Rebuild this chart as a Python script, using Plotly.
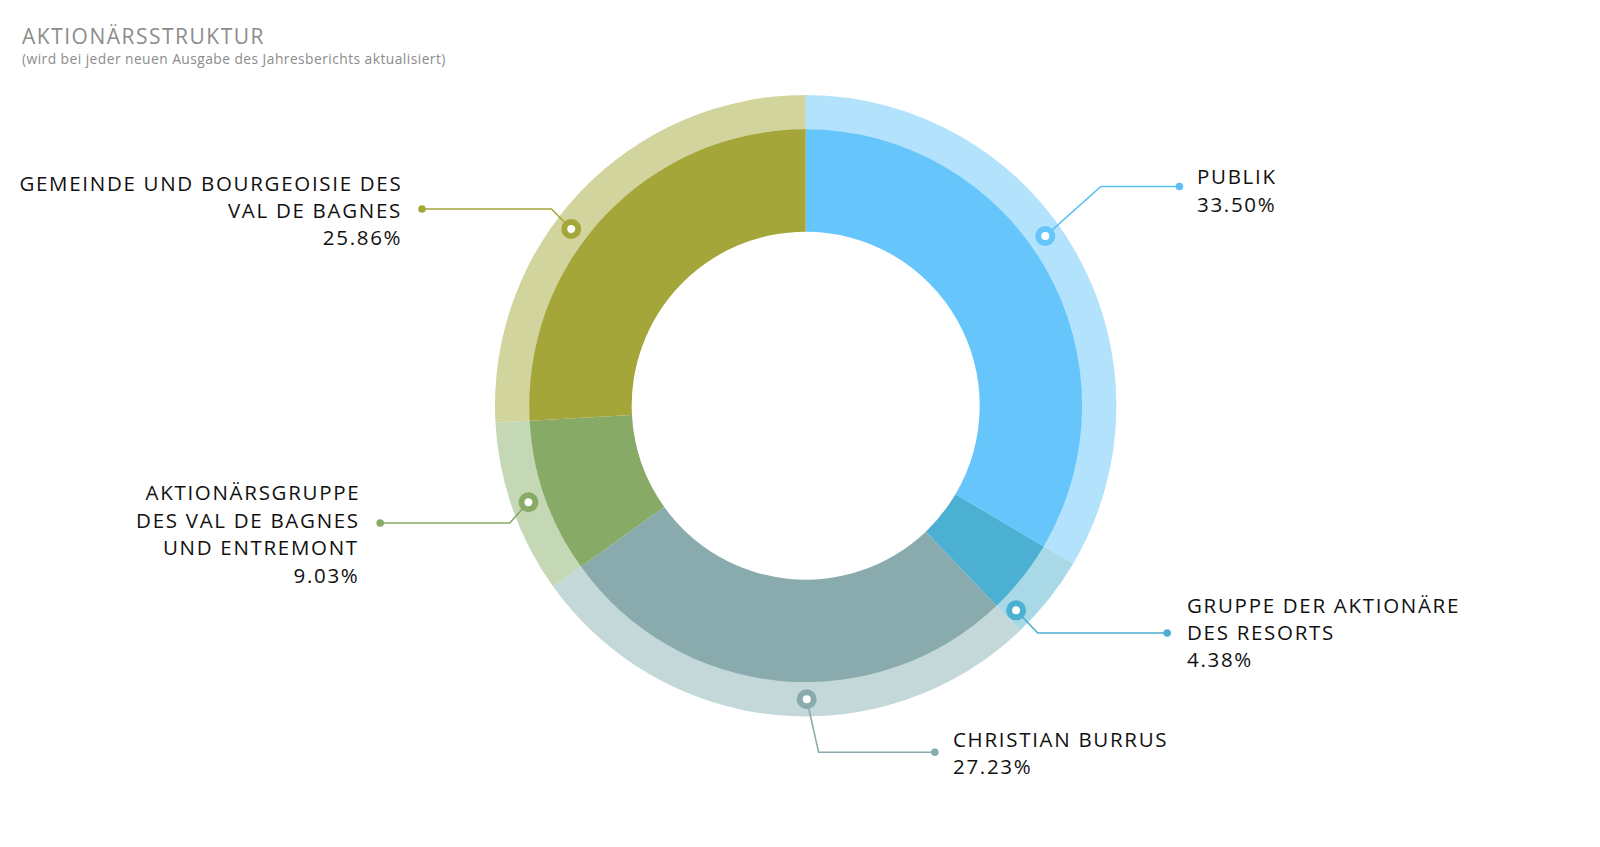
import math
import plotly.graph_objects as go

# ---------------- data ----------------
categories = [
    "PUBLIK",
    "GRUPPE DER AKTIONÄRE DES RESORTS",
    "CHRISTIAN BURRUS",
    "AKTIONÄRSGRUPPE DES VAL DE BAGNES UND ENTREMONT",
    "GEMEINDE UND BOURGEOISIE DES VAL DE BAGNES",
]
shares = [33.50, 4.38, 27.23, 9.03, 25.86]
label_lines = [
    ["PUBLIK"],
    ["GRUPPE DER AKTIONÄRE", "DES RESORTS"],
    ["CHRISTIAN BURRUS"],
    ["AKTIONÄRSGRUPPE", "DES VAL DE BAGNES", "UND ENTREMONT"],
    ["GEMEINDE UND BOURGEOISIE DES", "VAL DE BAGNES"],
]
title_text = "AKTIONÄRSSTRUKTUR"
subtitle_text = "(wird bei jeder neuen Ausgabe des Jahresberichts aktualisiert)"

# ---------------- style ----------------
dark_colors = ["#66C6FC", "#4BB0D1", "#89ABAD", "#87AA66", "#A5A63A"]
light_colors = ["#B3E2FC", "#A9D9E6", "#C4D7D9", "#C4D8B6", "#D2D49E"]
line_colors = ["#5CBFF3", "#4BB0D1", "#89ABAD", "#87AA66", "#A5A63A"]

W, H = 1600, 847
CX, CY = 805.7, 405.7
R_OUTER, R_INNER, R_HOLE = 310.7, 276.4, 174.0
R_CALLOUT = (R_OUTER + R_INNER) / 2

# callout layout: angle on ring (deg clockwise from top), elbow, end dot, text anchor
callout_angle = [54.7, 134.2, 179.8, 250.8, 307.0]
elbow = [(1100.9, 186.5), (1037.7, 633.0), (818.6, 752.3), (509.7, 523.0), (551.5, 209.0)]
end_dot = [(1179.4, 186.5), (1167.2, 633.0), (934.8, 752.3), (380.2, 523.0), (422.0, 209.0)]
text_x = [(1195.0, "left"), (1185.0, "left"), (950.5, "left"), (361.5, "right"), (403.5, "right")]
text_first_line_y = [176.4, 604.5, 739.0, 492.4, 182.5]
LINE_STEP = 27.4
LABEL_SIZE = 20.5


def px(x):
    return x / W


def py(y):
    return 1 - y / H


def dom(r):
    return dict(x=[px(CX - r), px(CX + r)], y=[py(CY + r), py(CY - r)])


fig = go.Figure()
fig.add_trace(go.Pie(
    labels=categories, values=shares, sort=False, direction="clockwise", rotation=0,
    hole=(R_INNER - 3) / R_OUTER, domain=dom(R_OUTER),
    marker=dict(colors=light_colors, line=dict(width=0)),
    textinfo="none", hoverinfo="skip", showlegend=False,
))
fig.add_trace(go.Pie(
    labels=categories, values=shares, sort=False, direction="clockwise", rotation=0,
    hole=R_HOLE / R_INNER, domain=dom(R_INNER),
    marker=dict(colors=dark_colors, line=dict(width=0)),
    textinfo="none", hoverinfo="label+percent", showlegend=False,
))

shapes = []
annotations = []
for i in range(len(shares)):
    a = math.radians(callout_angle[i])
    mx = CX + R_CALLOUT * math.sin(a)
    my = CY - R_CALLOUT * math.cos(a)
    ex, ey = elbow[i]
    dx, dy = end_dot[i]
    col = line_colors[i]
    shapes.append(dict(
        type="path", xref="paper", yref="paper", layer="above",
        path=f"M {px(mx)},{py(my)} L {px(ex)},{py(ey)} L {px(dx)},{py(dy)}",
        line=dict(color=col, width=1.6),
    ))
    rd = 3.8
    shapes.append(dict(
        type="circle", xref="paper", yref="paper", layer="above",
        x0=px(dx - rd), x1=px(dx + rd), y0=py(dy + rd), y1=py(dy - rd),
        fillcolor=col, line=dict(width=0),
    ))
    rm = 7.0
    shapes.append(dict(
        type="circle", xref="paper", yref="paper", layer="above",
        x0=px(mx - rm), x1=px(mx + rm), y0=py(my + rm), y1=py(my - rm),
        fillcolor="white", line=dict(color=dark_colors[i], width=6),
    ))
    tx, side = text_x[i]
    lines = label_lines[i] + [f"{shares[i]:.2f}%"]
    for k, line in enumerate(lines):
        annotations.append(dict(
            x=px(tx), y=py(text_first_line_y[i] + k * LINE_STEP), xref="paper", yref="paper",
            text=line, xanchor=side, yanchor="middle", align=side, showarrow=False,
            font=dict(family="Open Sans", size=LABEL_SIZE, color="#111111"),
        ))

annotations.append(dict(
    x=px(19.5), y=py(36), xref="paper", yref="paper", text=title_text,
    xanchor="left", yanchor="middle", align="left", showarrow=False,
    font=dict(family="Open Sans", size=21, color="#8C8C8C"),
))
annotations.append(dict(
    x=px(19.5), y=py(58.5), xref="paper", yref="paper", text=subtitle_text,
    xanchor="left", yanchor="middle", align="left", showarrow=False,
    font=dict(family="Open Sans", size=13.8, color="#8C8C8C"),
))

fig.update_layout(
    width=W, height=H, margin=dict(l=0, r=0, t=0, b=0),
    paper_bgcolor="white", plot_bgcolor="white",
    shapes=shapes, annotations=annotations,
)

post = """
document.body.style.margin = '0';
document.body.style.overflow = 'hidden';
document.querySelectorAll('.annotation-text').forEach(function (t) {
  var txt = t.textContent;
  if (txt.indexOf('(wird') === 0) { t.style.letterSpacing = '0.45px'; }
  else if (txt === 'AKTIONÄRSSTRUKTUR') { t.style.letterSpacing = '1.5px'; }
  else { t.style.letterSpacing = '1.7px'; }
});
"""

fig.write_html("out.html", post_script=post, config={"displayModeBar": False})
